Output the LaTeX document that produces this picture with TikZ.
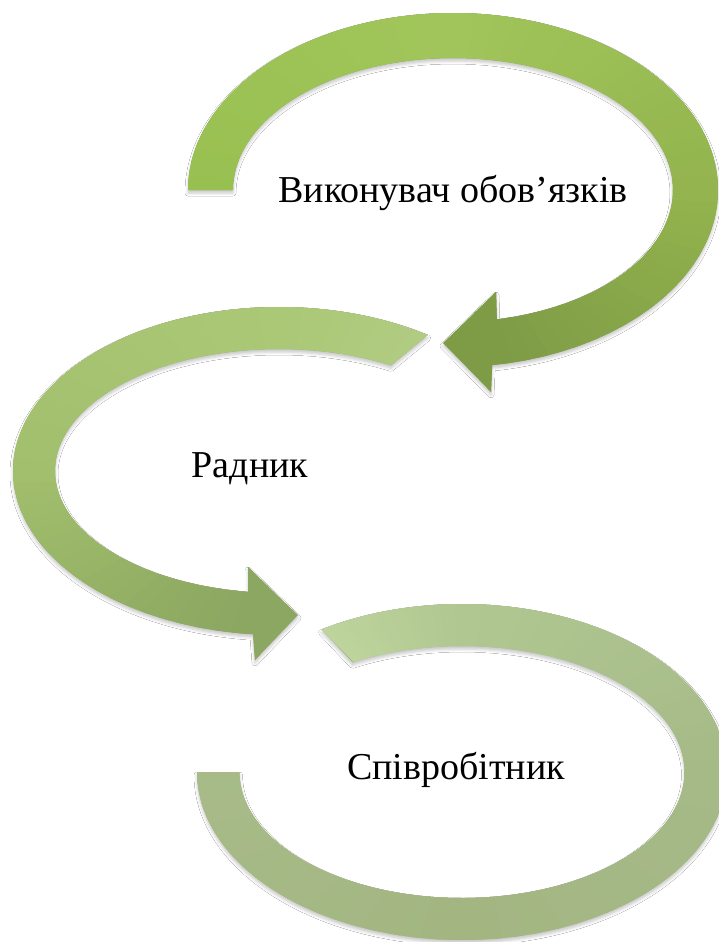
\documentclass[tikz,border=0pt]{standalone}
\usepackage{fontspec}
\setmainfont{Liberation Serif}
\usetikzlibrary{shadows.blur}

% key colours along each curved arrow
\definecolor{c1a}{HTML}{98C051}
\definecolor{c1b}{HTML}{A1C55A}
\definecolor{c1c}{HTML}{93B44E}
\definecolor{c1d}{HTML}{7E9C46}
\definecolor{c2a}{HTML}{B1CC82}
\definecolor{c2b}{HTML}{AAC876}
\definecolor{c2c}{HTML}{A2BF6D}
\definecolor{c2d}{HTML}{8BA761}
\definecolor{c3a}{HTML}{BDD49D}
\definecolor{c3b}{HTML}{B0C791}
\definecolor{c3c}{HTML}{A6BA88}
\definecolor{c3d}{HTML}{A3B682}
\definecolor{c3e}{HTML}{A7BB88}

% colour ramp along an elliptic band: wedges from the centre (cx,cy),
% radii (a,b), parameter t1 -> t2, colour A -> colour B
\newcommand{\gradseg}[8]{%
  \foreach \k in {0,...,19}{%
    \pgfmathsetmacro\ta{#5+((#6)-(#5))*\k/20}%
    \pgfmathsetmacro\tb{#5+((#6)-(#5))*(\k+1.6)/20}%
    \pgfmathtruncatemacro\pc{100-100*\k/19}%
    \fill[#7!\pc!#8] (#1,#2) -- ({#1+2*#3*cos(\ta)},{#2+2*#4*sin(\ta)})
      -- ({#1+2*#3*cos(\tb)},{#2+2*#4*sin(\tb)}) -- cycle;
  }%
}

\tikzset{
  lbl/.style={font=\fontsize{38}{44}\selectfont, text=black, inner sep=0pt, anchor=base},
  softshadow/.style={blur shadow={shadow xshift=0pt, shadow yshift=-3pt,
      shadow blur radius=3pt, shadow opacity=22}}
}

\begin{document}
\begin{tikzpicture}[x=1pt, y=-1pt]
\useasboundingbox (0,0) rectangle (719,942);
\fill[white] (0,0) rectangle (719,942);

% outlines of the three curved arrows
\def\shapeA{(188,190)
  -- plot[domain=180:441.5, samples=140] ({453+265*cos(\x)},{190+177*sin(\x)})
  -- (491,392) -- (443,343) -- (496,292)
  -- plot[domain=438.5:180, samples=140] ({453+220*cos(\x)},{190+132*sin(\x)})
  -- cycle}
\def\shapeB{({279+266*cos(-56)},{471+164*sin(-56)})
  -- plot[domain=-56:-264.4, samples=140] ({279+266*cos(\x)},{471+164*sin(\x)})
  -- (255,660) -- (298,615) -- (248,567)
  -- plot[domain=-262.1:-60, samples=140] ({279+224*cos(\x)},{471+122*sin(\x)})
  -- cycle}
\def\shapeC{({462+265*cos(-122)},{772+168*sin(-122)})
  -- plot[domain=-122:180, samples=160] ({462+265*cos(\x)},{772+168*sin(\x)})
  -- plot[domain=180:-119.5, samples=160] ({462+222.5*cos(\x)},{772+126*sin(\x)})
  -- cycle}

% bottom arrow
\path[softshadow, fill=c3e] \shapeC;
\begin{scope}
  \clip \shapeC;
  \gradseg{462}{772}{265}{168}{-122}{-90}{c3a}{c3b}
  \gradseg{462}{772}{265}{168}{-90}{0}{c3b}{c3c}
  \gradseg{462}{772}{265}{168}{0}{90}{c3c}{c3d}
  \gradseg{462}{772}{265}{168}{90}{180}{c3d}{c3e}
\end{scope}

% middle arrow
\path[softshadow, fill=c2d] \shapeB;
\begin{scope}
  \clip \shapeB;
  \gradseg{279}{471}{266}{164}{-56}{-90}{c2a}{c2b}
  \gradseg{279}{471}{266}{164}{-90}{-180}{c2b}{c2c}
  \gradseg{279}{471}{266}{164}{-180}{-264}{c2c}{c2d}
\end{scope}

% top arrow
\path[softshadow, fill=c1d] \shapeA;
\begin{scope}
  \clip \shapeA;
  \gradseg{453}{190}{265}{177}{180}{270}{c1a}{c1b}
  \gradseg{453}{190}{265}{177}{270}{360}{c1b}{c1c}
  \gradseg{453}{190}{265}{177}{360}{441}{c1c}{c1d}
\end{scope}

% labels
\node[lbl] (t1) at (453,202) {Виконувач обов’язків};
\node[lbl] (t2) at (250,477) {Радник};
\node[lbl] (t3) at (456,779) {Співробітник};
\end{tikzpicture}
\end{document}
